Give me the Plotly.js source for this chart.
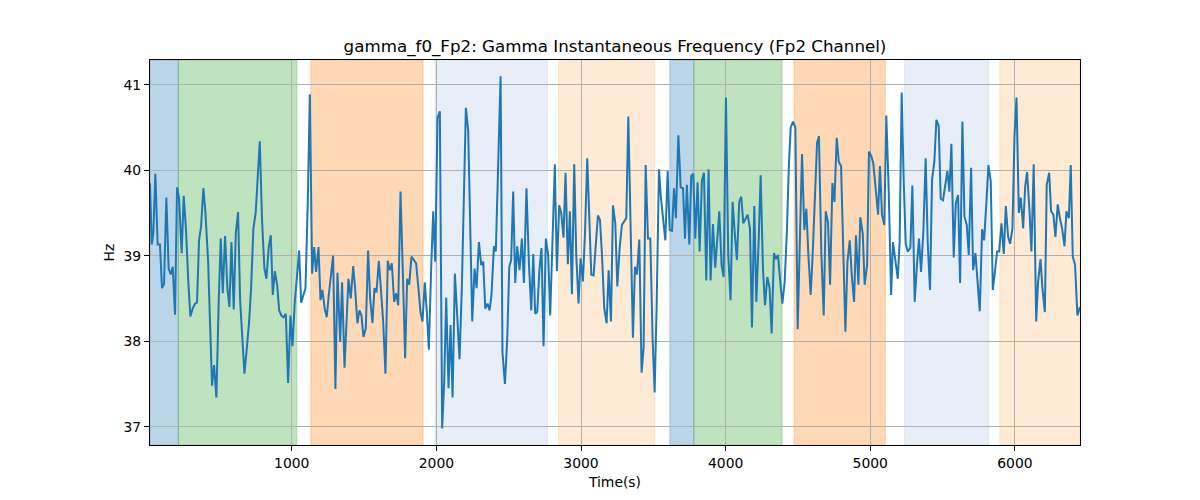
<!DOCTYPE html>
<html>
<head>
<meta charset="utf-8">
<script src="https://cdn.plot.ly/plotly-3.0.1.min.js"></script>
<style>
  html, body { margin: 0; padding: 0; background: #fff; }
  #plot { width: 1200px; height: 500px; }
</style>
</head>
<body>
<div id="plot"></div>
<script>
// Time stamps (s)
const times = [
  20, 32, 43, 57, 73, 89, 103, 117, 133, 149, 163, 177, 193, 207, 221, 239, 253, 269, 285, 299,
  315, 332, 345, 359, 373, 389, 403, 422, 435, 449, 463, 479, 495, 509, 523, 539, 555, 569, 583, 599,
  613, 629, 643, 657, 673, 689, 705, 719, 735, 751, 765, 779, 795, 811, 825, 841, 855, 869, 883, 899,
  913, 929, 943, 959, 975, 991, 1005, 1021, 1035, 1051, 1065, 1081, 1095, 1111, 1125, 1141, 1155, 1168, 1185, 1199,
  1212, 1228, 1242, 1256, 1272, 1286, 1302, 1316,
  1335, 1348, 1365, 1378, 1392, 1408, 1425, 1438, 1454, 1468, 1482, 1496, 1512, 1528, 1542, 1558, 1572, 1586, 1602, 1616,
  1632, 1648, 1664, 1678, 1692, 1708, 1722, 1736, 1752, 1768, 1784, 1798, 1812, 1828, 1844, 1860, 1876, 1890, 1904, 1920,
  1934, 1948, 1964, 1978, 1992, 2008, 2024, 2040, 2054, 2068, 2084, 2098, 2112, 2128, 2144, 2160, 2176, 2190, 2204, 2220,
  2234, 2248, 2264, 2278, 2294, 2310, 2324, 2338, 2354, 2368, 2381, 2398, 2411, 2428, 2444, 2457, 2474, 2490, 2504, 2517,
  2531, 2545, 2559, 2575, 2591, 2605, 2623, 2640,
  2656, 2670, 2683, 2697, 2713, 2727, 2741, 2757, 2773, 2787, 2803, 2819, 2833, 2849, 2863, 2879, 2893, 2909, 2923, 2937,
  2953, 2967, 2983, 2997, 3013, 3027, 3043, 3057, 3071, 3087, 3101, 3117, 3131, 3145, 3161, 3177, 3191, 3207, 3221, 3237,
  3251, 3267, 3283, 3297, 3313, 3327, 3343, 3359, 3373, 3387, 3403, 3419, 3433, 3447, 3463, 3479, 3495, 3509, 3523, 3539,
  3553, 3569, 3583, 3599, 3613, 3629, 3643, 3656, 3673, 3689, 3705, 3719, 3732, 3749, 3762, 3776, 3790, 3806, 3820, 3836,
  3850, 3866, 3882, 3896, 3912, 3928, 3942,
  3956, 3972, 3986, 4002, 4018, 4034, 4048, 4064, 4078, 4094, 4108, 4122, 4138, 4152, 4168, 4182, 4198, 4212, 4228, 4242,
  4258, 4272, 4288, 4304, 4318, 4334, 4348, 4362, 4378, 4392, 4408, 4424, 4438, 4450, 4466, 4482, 4498, 4512, 4528, 4544,
  4558, 4572, 4588, 4602, 4616, 4632, 4645, 4662, 4678, 4692, 4708, 4722, 4738, 4752, 4768, 4782, 4798, 4812, 4828, 4842,
  4858, 4872, 4888, 4901, 4918, 4931, 4948, 4961, 4978, 4991, 5008, 5021, 5054, 5067, 5081, 5097, 5111, 5127, 5144, 5157,
  5173, 5190, 5203, 5217, 5231, 5245, 5259,
  5277, 5291, 5307, 5321, 5337, 5351, 5367, 5383, 5397, 5413, 5427, 5443, 5457, 5473, 5487, 5503, 5517, 5533, 5547, 5561,
  5577, 5591, 5607, 5621, 5637, 5651, 5667, 5681, 5697, 5711, 5727, 5741, 5757, 5773, 5787, 5803, 5817, 5833, 5847, 5863,
  5877, 5891, 5907, 5923, 5937, 5953, 5967, 5983, 5997, 6011, 6027, 6041, 6057, 6071, 6084, 6101, 6114, 6130, 6147, 6160,
  6177, 6190, 6207, 6220, 6237, 6250, 6266, 6280, 6296, 6313, 6326, 6343, 6356, 6373, 6386, 6400, 6416, 6432, 6450
];

// Gamma instantaneous frequency (Hz)
const freq = [
  39.85, 39.13, 39.26, 39.96, 39.13, 39.13, 38.62, 38.67, 39.68, 38.85, 38.78, 38.87, 38.31, 39.80, 39.67, 39.03, 39.70, 39.30, 38.69, 38.29,
  38.38, 38.44, 38.45, 39.18, 39.34, 39.79, 39.51, 38.93, 38.22, 37.48, 37.72, 37.34, 38.46, 39.20, 38.56, 39.23, 38.62, 38.40, 39.16, 38.37,
  39.26, 39.51, 38.48, 38.03, 37.62, 37.91, 38.22, 38.62, 39.32, 39.51, 39.98, 40.34, 39.40, 38.85, 38.73, 39.10, 39.24, 38.54, 38.82, 38.66,
  38.36, 38.30, 38.28, 38.32, 37.51, 38.30, 37.94, 38.46, 38.73, 39.06, 38.45, 38.56, 38.62, 39.63, 40.89, 38.79, 39.10, 38.81, 39.10, 38.48,
  38.60, 38.38, 38.28, 38.54, 38.75, 39.00, 37.44, 38.80,
  37.99, 38.69, 37.69, 38.23, 38.73, 38.50, 38.88, 38.62, 38.21, 38.36, 38.30, 38.05, 38.15, 39.06, 38.50, 38.21, 38.62, 38.57, 38.94, 38.62,
  38.23, 37.62, 38.94, 38.83, 38.91, 38.46, 38.56, 38.42, 39.75, 38.81, 37.80, 38.73, 38.66, 38.99, 38.95, 38.91, 38.62, 38.34, 38.23, 38.69,
  38.34, 37.90, 38.85, 39.52, 38.93, 40.61, 40.69, 36.98, 37.52, 38.51, 37.45, 38.19, 37.34, 38.79, 38.30, 37.79, 38.62, 39.79, 40.73, 40.46,
  39.40, 38.23, 38.85, 38.62, 39.16, 38.89, 38.93, 38.38, 38.44, 38.36, 38.54, 39.11, 39.05, 40.18, 41.10, 37.87, 37.50, 38.03, 38.87, 38.95,
  39.75, 38.68, 39.11, 38.83, 39.20, 38.68, 39.79, 38.90,
  38.36, 39.02, 38.32, 38.34, 38.85, 39.09, 37.94, 39.20, 39.01, 38.30, 39.24, 40.07, 38.82, 39.59, 39.50, 39.21, 39.97, 38.90, 39.52, 38.55,
  40.07, 39.01, 38.44, 38.97, 38.70, 39.24, 40.14, 39.32, 38.78, 38.77, 39.05, 39.47, 39.42, 39.01, 38.38, 38.21, 38.83, 38.23, 39.59, 39.38,
  38.64, 39.09, 39.36, 39.40, 39.44, 40.63, 39.40, 38.04, 38.87, 38.78, 39.19, 37.63, 37.93, 40.06, 39.20, 39.20, 38.03, 37.40, 38.42, 40.01,
  39.67, 39.36, 39.18, 39.99, 39.30, 39.29, 39.79, 39.44, 40.41, 39.80, 39.79, 39.20, 39.83, 39.13, 39.93, 39.96, 39.20, 39.86, 39.05, 39.88,
  39.97, 38.71, 40.01, 38.71, 39.37, 38.86, 39.20,
  39.52, 38.89, 38.75, 40.85, 39.01, 38.48, 39.63, 39.24, 38.95, 39.63, 39.69, 39.38, 39.44, 39.48, 39.32, 38.16, 39.58, 38.46, 39.16, 39.94,
  38.85, 38.42, 38.75, 38.62, 38.09, 39.03, 38.96, 39.01, 38.69, 38.44, 38.69, 39.32, 40.10, 40.50, 40.57, 40.50, 38.14, 39.16, 40.19, 39.30,
  39.55, 39.01, 38.54, 39.03, 39.67, 40.32, 40.40, 39.01, 38.30, 39.52, 39.39, 38.66, 39.85, 39.63, 40.38, 40.10, 40.05, 39.16, 38.11, 38.93,
  39.18, 38.77, 38.46, 39.24, 38.66, 39.45, 39.26, 38.66, 38.89, 40.22, 40.16, 40.08, 39.48, 40.05, 39.48, 39.36, 40.64, 39.79, 38.54, 39.16,
  38.97, 38.73, 39.16, 40.91, 39.87, 39.14, 39.05,
  39.09, 39.82, 38.46, 38.85, 39.20, 38.81, 39.28, 40.14, 39.16, 38.60, 39.89, 40.10, 40.59, 40.52, 39.67, 39.65, 39.83, 39.99, 39.75, 40.31,
  38.98, 39.61, 39.71, 38.68, 40.57, 39.46, 39.36, 39.01, 40.03, 38.83, 39.03, 38.69, 38.35, 39.31, 39.18, 39.63, 40.06, 39.87, 38.60, 38.83,
  39.05, 39.05, 39.38, 39.02, 39.58, 39.22, 39.14, 39.32, 40.40, 40.85, 39.50, 39.68, 39.32, 39.81, 39.98, 39.52, 39.05, 40.07, 38.23, 38.69,
  38.96, 38.62, 38.34, 39.83, 39.97, 39.52, 39.48, 39.22, 39.60, 39.42, 39.32, 39.11, 39.52, 39.44, 40.06, 38.99, 38.89, 38.30, 38.40
];

// Shaded segments
const spanStart = [20, 216, 1132, 1990, 2844, 3614, 3780, 4473, 5237, 5896];
const spanEnd   = [216, 1035, 1908, 2768, 3510, 3780, 4390, 5104, 5820, 6450];
const spanColor = [
  'rgba(31,119,180,0.3)', 'rgba(44,160,44,0.3)', 'rgba(255,127,14,0.3)',
  'rgba(174,199,232,0.3)', 'rgba(255,187,120,0.3)',
  'rgba(31,119,180,0.3)', 'rgba(44,160,44,0.3)', 'rgba(255,127,14,0.3)',
  'rgba(174,199,232,0.3)', 'rgba(255,187,120,0.3)'
];

const xTicks = [1000, 2000, 3000, 4000, 5000, 6000];
const yTicks = [37, 38, 39, 40, 41];

// One rectangle per segment, spanning the full height (edge in the same colour, like axvspan)
const shapes = spanStart.map((s, i) => ({
  type: 'rect', xref: 'x', yref: 'paper',
  x0: s, x1: spanEnd[i], y0: 0, y1: 1,
  fillcolor: spanColor[i], line: { color: spanColor[i], width: 1 }, layer: 'below'
}));

const trace = {
  x: times, y: freq, mode: 'lines', type: 'scatter',
  line: { color: '#1f77b4', width: 2 }
};

const axisStyle = {
  showline: true, mirror: true, linecolor: '#000', linewidth: 1,
  ticks: 'outside', ticklen: 5, tickwidth: 1, tickcolor: '#000',
  showgrid: true, gridcolor: '#b0b0b0', gridwidth: 1,
  zeroline: false,
  tickfont: { family: 'DejaVu Sans', size: 13.9, color: '#000' }
};

Plotly.newPlot('plot', [trace], {
  width: 1200, height: 500,
  margin: { l: 150, r: 120, t: 60, b: 55 },
  paper_bgcolor: '#fff', plot_bgcolor: 'rgba(0,0,0,0)',
  showlegend: false,
  shapes: shapes,
  title: {
    text: 'gamma_f0_Fp2: Gamma Instantaneous Frequency (Fp2 Channel)',
    font: { family: 'DejaVu Sans', size: 16.7, color: '#000' },
    x: 0.5125, xanchor: 'center', y: 0.908, yanchor: 'middle'
  },
  xaxis: Object.assign({}, axisStyle, {
    range: [20, 6450], tickvals: xTicks,
    title: { text: 'Time(s)', font: { family: 'DejaVu Sans', size: 13.9, color: '#000' }, standoff: 7 }
  }),
  yaxis: Object.assign({}, axisStyle, {
    range: [36.785, 41.29], tickvals: yTicks,
    title: { text: 'Hz', font: { family: 'DejaVu Sans', size: 13.9, color: '#000' }, standoff: 5 }
  })
}, { displayModeBar: false, staticPlot: true });
</script>
</body>
</html>
